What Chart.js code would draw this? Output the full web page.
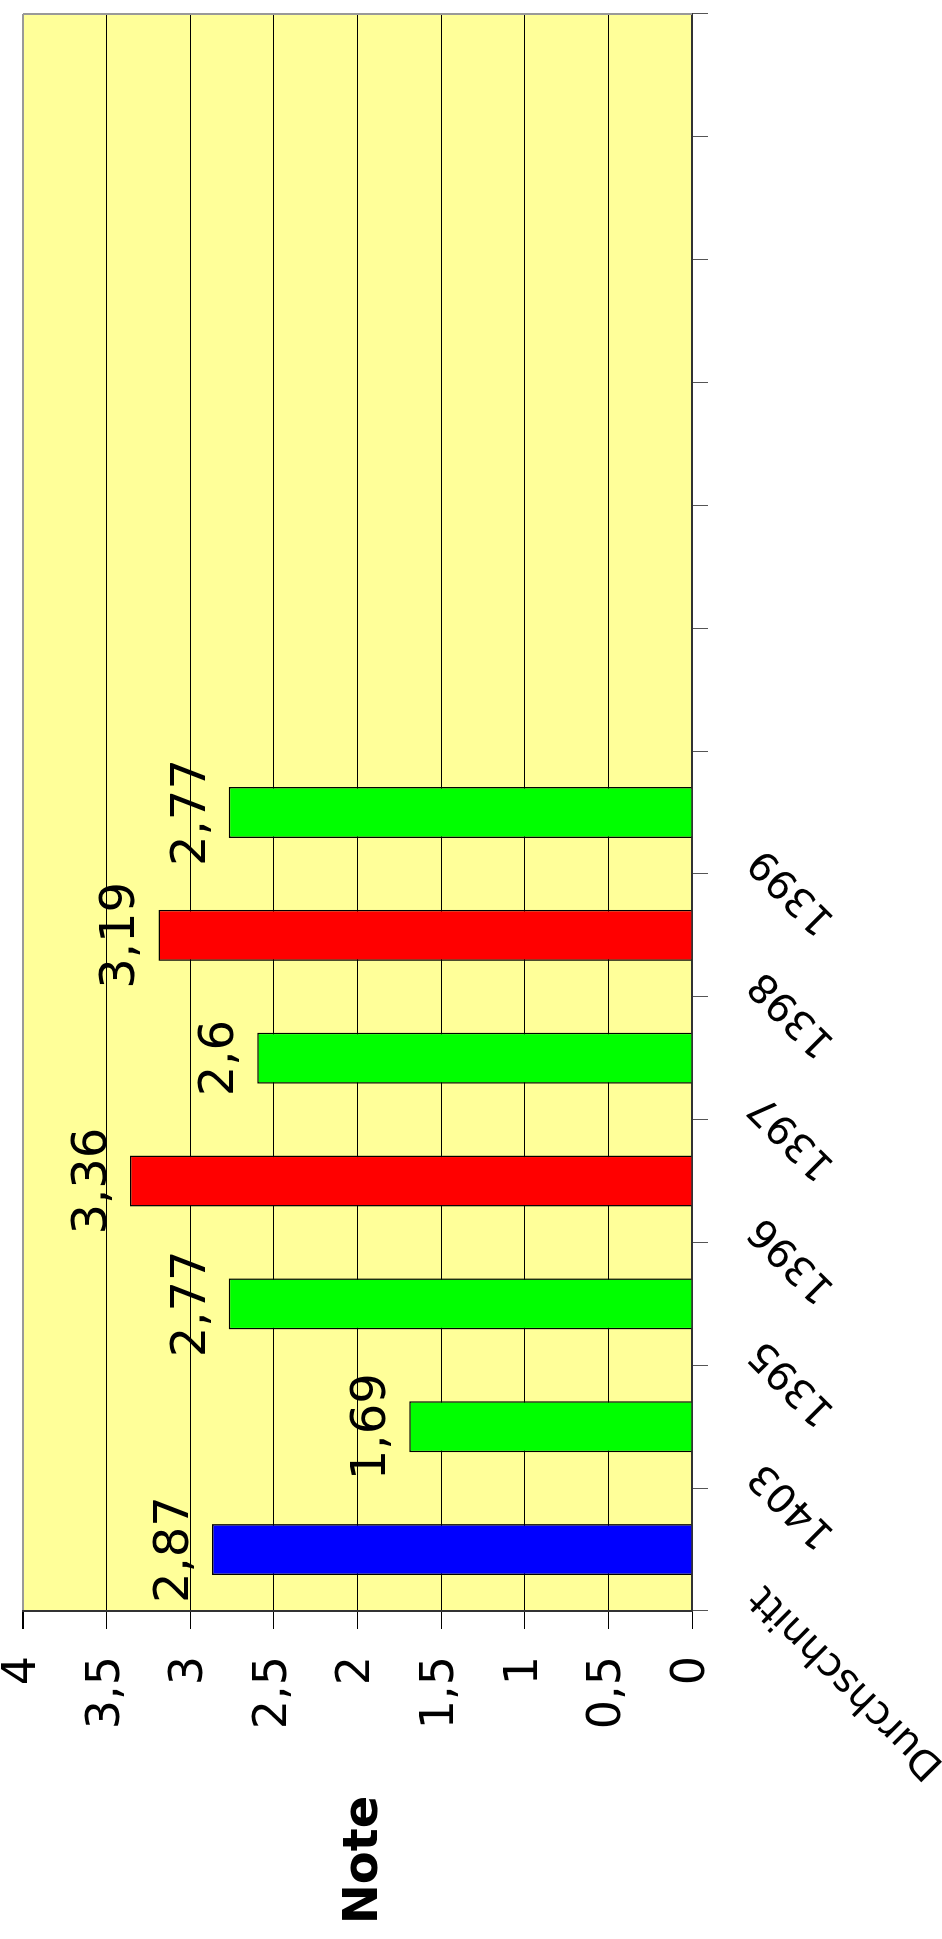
<!DOCTYPE html>
<html>
<head>
<meta charset="utf-8">
<script src="https://cdn.jsdelivr.net/npm/chart.js@4.4.1/dist/chart.umd.min.js"></script>
<style>
  html, body { margin: 0; padding: 0; background: #fff; overflow: hidden; }
  body { width: 942px; height: 1939px; position: relative; }
  /* the chart is drawn upright and then turned a quarter turn left */
  #grades {
    position: absolute; left: 0; top: 0;
    width: 1939px; height: 942px;
    transform-origin: 0 0;
    transform: translateY(1939px) rotate(-90deg);
  }
</style>
</head>
<body>
<canvas id="grades" width="1939" height="942"></canvas>
<script>
const categories = ['Durchschnitt', '1403', '1395', '1396', '1397', '1398', '1399', '', '', '', '', '', ''];
const grades = [2.87, 1.69, 2.77, 3.36, 2.6, 3.19, 2.77, null, null, null, null, null, null];
const barColors = ['#0000FF', '#00FF00', '#00FF00', '#FF0000', '#00FF00', '#FF0000', '#00FF00'];
const axisTitle = 'Note';

const FONT = '"DejaVu Sans", "Liberation Sans", sans-serif';
const comma = v => String(v).replace('.', ',');

const sheet = {
  id: 'sheet',
  beforeDraw(chart) {
    const { ctx, chartArea: a } = chart;
    ctx.save();
    ctx.fillStyle = '#fff';
    ctx.fillRect(0, 0, chart.width, chart.height);
    ctx.fillStyle = '#FFFF99';
    ctx.fillRect(a.left, a.top, a.right - a.left, a.bottom - a.top);
    ctx.restore();
  },
  afterDatasetsDraw(chart) {
    const ctx = chart.ctx;
    ctx.save();
    ctx.font = '48px ' + FONT;
    ctx.fillStyle = '#000';
    ctx.textAlign = 'center';
    ctx.textBaseline = 'alphabetic';
    chart.getDatasetMeta(0).data.forEach((bar, i) => {
      if (grades[i] == null) return;
      ctx.fillText(comma(grades[i]), bar.x, bar.y - 24);
    });
    ctx.restore();
  },
  afterDraw(chart) {
    const { ctx, chartArea: a } = chart;
    ctx.save();
    ctx.strokeStyle = '#999';
    ctx.lineWidth = 2;
    ctx.beginPath();
    ctx.moveTo(a.right, a.top);
    ctx.lineTo(a.right, a.bottom);
    ctx.stroke();
    ctx.font = 'bold 48px ' + FONT;
    ctx.fillStyle = '#000';
    ctx.textAlign = 'center';
    ctx.textBaseline = 'alphabetic';
    ctx.fillText(axisTitle, 79, 377);
    ctx.restore();
  }
};

new Chart(document.getElementById('grades'), {
  type: 'bar',
  data: {
    labels: categories,
    datasets: [{
      data: grades,
      backgroundColor: barColors,
      borderColor: '#000',
      borderWidth: 1.5,
      categoryPercentage: 1,
      barPercentage: 0.415
    }]
  },
  options: {
    responsive: false,
    devicePixelRatio: 1,
    animation: false,
    layout: { padding: { top: 23, right: 14, left: 0, bottom: 0 } },
    plugins: {
      legend: { display: false },
      tooltip: { enabled: false }
    },
    scales: {
      x: {
        offset: true,
        grid: { offset: true, drawOnChartArea: false, tickLength: 16, color: '#555' },
        border: { color: '#333', width: 2 },
        ticks: {
          autoSkip: false,
          minRotation: 45,
          maxRotation: 45,
          padding: 32,
          labelOffset: -42,
          color: '#000',
          font: { family: FONT, size: 40 }
        },
        afterFit(s) { s.height = 250; s.paddingRight = 0; }
      },
      y: {
        min: 0,
        max: 4,
        grid: {
          color: c => (c.tick && c.tick.value === 4 ? '#999' : '#000'),
          lineWidth: c => (c.tick && c.tick.value === 4 ? 2 : 1),
          tickColor: '#000',
          tickLength: 18
        },
        border: { color: '#333', width: 2 },
        ticks: {
          stepSize: 0.5,
          padding: 27,
          color: '#000',
          font: { family: FONT, size: 46 },
          callback: v => comma(v)
        },
        afterFit(s) { s.width = 328; s.paddingTop = 0; s.paddingBottom = 0; }
      }
    }
  },
  plugins: [sheet]
});
</script>
</body>
</html>
